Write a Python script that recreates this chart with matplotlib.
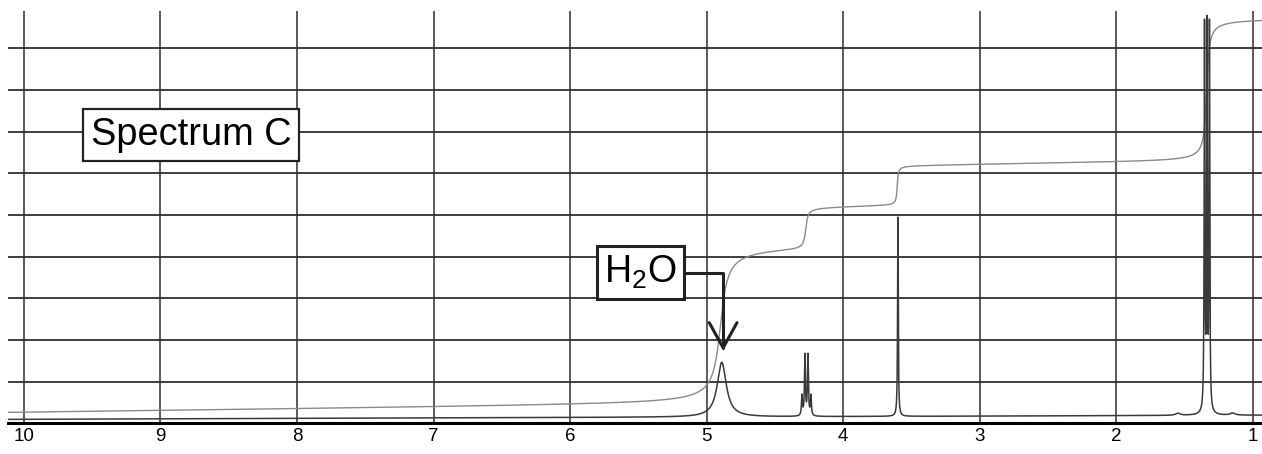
import numpy as np
import matplotlib.pyplot as plt

plt.rcParams['font.family'] = ['Liberation Sans', 'DejaVu Sans']
plt.rcParams['mathtext.fontset'] = 'custom'
plt.rcParams['mathtext.rm'] = 'Liberation Sans'
plt.rcParams['mathtext.it'] = 'Liberation Sans:italic'

# axis / chart paper
ppm_ticks = [10, 9, 8, 7, 6, 5, 4, 3, 2, 1]
grid_levels = [1, 2, 3, 4, 5, 6, 7, 8, 9]
ppm_left, ppm_right = 10.117, 0.934

# spectrum lines: position (ppm), height (grid units), half width (ppm)
peak_ppm = [4.89, 4.303, 4.281, 4.259, 4.237, 3.600, 1.355, 1.337, 1.319, 1.55, 1.15]
peak_height = [1.31, 0.48, 1.45, 1.45, 0.48, 4.78, 9.2, 9.1, 9.2, 0.05, 0.05]
peak_hwhm = [0.040, 0.004, 0.004, 0.004, 0.004, 0.003, 0.003, 0.003, 0.003, 0.02, 0.02]
baseline_start = 0.10   # at 10 ppm
baseline_drift = 0.011  # per ppm

# integral trace: step centres, step sizes, step widths
step_ppm = [4.90, 4.275, 3.605, 1.34]
step_size = [3.75, 1.0, 0.95, 3.4]
step_width = [0.04, 0.012, 0.006, 0.015]
integral_start = 0.26
integral_drift = 0.04

ppm = np.linspace(ppm_left, ppm_right, 60000)

spectrum = baseline_start + baseline_drift * (10 - ppm)
for c, h, w in zip(peak_ppm, peak_height, peak_hwhm):
    spectrum += h * w**2 / ((ppm - c)**2 + w**2)

integral = integral_start + integral_drift * (10 - ppm)
for c, s, w in zip(step_ppm, step_size, step_width):
    integral += s * (0.5 + np.arctan((c - ppm) / w) / np.pi)

fig = plt.figure(figsize=(12.62, 4.54), dpi=100)
ax = fig.add_axes([0.0063, 0.0672, 0.9937, 0.9328])

# chart paper grid
ax.hlines(grid_levels, ppm_left, ppm_right, color='#2e2e2e', lw=1.3, zorder=1)
ax.vlines(ppm_ticks, 0, 9.9, color='#2e2e2e', lw=1.1, zorder=1)

ax.plot(ppm, integral, color='#8a8a8a', lw=1.0, zorder=2)
ax.plot(ppm, spectrum, color='#3a3a3a', lw=1.1, zorder=3)

ax.text(8.777, 6.92, 'Spectrum C', fontsize=27.4, ha='center', va='center', zorder=5,
        bbox=dict(boxstyle='square,pad=0.2', fc='white', ec='#222222', lw=1.6))

ax.annotate(r'H$_2$O', xy=(4.88, 1.74), xytext=(5.485, 3.62), textcoords='data',
            fontsize=27, ha='center', va='center', zorder=5,
            bbox=dict(boxstyle='square,pad=0.2', fc='white', ec='#222222', lw=2.2),
            arrowprops=dict(arrowstyle='->,head_length=0.67,head_width=0.37',
                            connectionstyle='angle,angleA=0,angleB=90,rad=0',
                            color='#222222', lw=2.2, shrinkA=0, shrinkB=0))

ax.set_xlim(ppm_left, ppm_right)
ax.set_ylim(0, 10.16)
ax.set_xticks(ppm_ticks)
ax.set_xticklabels([str(t) for t in ppm_ticks])
ax.tick_params(axis='x', length=0, labelsize=13.5, pad=3)
ax.set_yticks([])
for side in ['left', 'right', 'top']:
    ax.spines[side].set_visible(False)
ax.spines['bottom'].set_linewidth(2.2)

fig.savefig('out.png', dpi=100)
